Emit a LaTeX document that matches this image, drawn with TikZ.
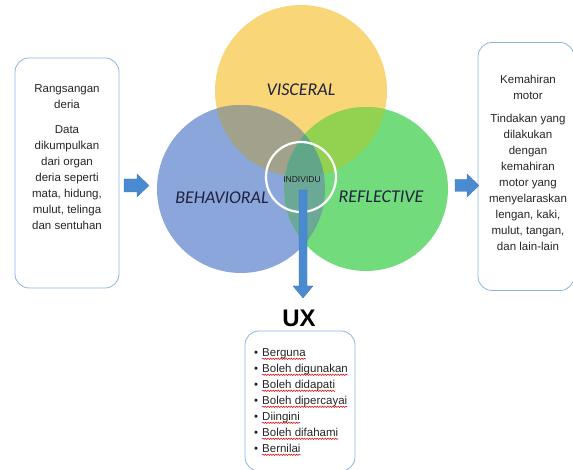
\documentclass[tikz,border=0pt]{standalone}
\usepackage{fontspec}
\setmainfont{Liberation Sans}
\newfontfamily\labfont{Carlito}
\usetikzlibrary{decorations.pathmorphing}
\definecolor{cy}{HTML}{F9D678}
\definecolor{cb}{HTML}{8AA6DA}
\definecolor{cg}{HTML}{72DC7C}
\definecolor{cyb}{HTML}{A2A28C}
\definecolor{cyg}{HTML}{92D250}
\definecolor{cbg}{HTML}{6BA896}
\definecolor{cybg}{HTML}{62A68A}
\definecolor{boxline}{HTML}{8EB4E3}
\definecolor{arrowblue}{HTML}{4A8AD0}
\definecolor{labcol}{HTML}{1F2340}
\tikzset{
  infobox/.style={draw=boxline, line width=0.8pt, rounded corners=14pt, fill=white},
  boxtext/.style={align=center, font=\fontsize{11.5}{16}\selectfont, text=black!85, inner sep=0pt},
  circlab/.style={font=\labfont\itshape\fontsize{18}{20}\selectfont, text=labcol, inner sep=0pt},
  blockarrow/.style={fill=arrowblue, draw=arrowblue!85!black, line width=0.3pt},
  uxitem/.style={anchor=base west, font=\fontsize{11.5}{14}\selectfont, inner sep=0pt, text=black!85},
  squiggle/.style={draw=red!85!black, line width=0.5pt, decorate, decoration={snake, amplitude=0.7pt, segment length=2.6pt}}
}
\begin{document}
\begin{tikzpicture}[x=1pt,y=-1pt]
\useasboundingbox (0,0) rectangle (573,470);
% circles
\coordinate (Y) at (301,91);
\coordinate (B) at (241,189);
\coordinate (G) at (366,189);
\def\ry{86}\def\rb{84}\def\rg{82}
\fill[cy] (Y) circle (\ry);
\fill[cb] (B) circle (\rb);
\fill[cg] (G) circle (\rg);
\begin{scope}
  \clip (Y) circle (\ry);
  \fill[cyb] (B) circle (\rb);
  \fill[cyg] (G) circle (\rg);
\end{scope}
\begin{scope}
  \clip (B) circle (\rb);
  \fill[cbg] (G) circle (\rg);
  \clip (G) circle (\rg);
  \fill[cybg] (Y) circle (\ry);
\end{scope}
% inner circle
\node[circle, draw=white, line width=2.2pt, minimum size=70pt, inner sep=0pt] (ind) at (301,177) {};
\node[font=\fontsize{8.5}{10}\selectfont, text=black!90, inner sep=0pt] (indt) at (302,180) {INDIVIDU};
% circle labels
\node[circlab] (vis) at (301,90) {VISCERAL};
\node[circlab] (beh) at (222,198) {BEHAVIORAL};
\node[circlab] (ref) at (381,197) {REFLECTIVE};
% left box
\node[infobox, minimum width=104pt, minimum height=230pt] (lbox) at (67,173) {};
\node[boxtext] (ltext) at (67,157) {Rangsangan\\deria\\[9pt]Data\\dikumpulkan\\dari organ\\deria seperti\\mata, hidung,\\mulut, telinga\\dan sentuhan};
% right box
\node[infobox, minimum width=96pt, minimum height=248pt] (rbox) at (526,166.5) {};
\node[boxtext] (rtext) at (528,163) {Kemahiran\\motor\\[7pt]Tindakan yang\\dilakukan\\dengan\\kemahiran\\motor yang\\menyelaraskan\\lengan, kaki,\\mulut, tangan,\\dan lain-lain};
% block arrows
\draw[blockarrow] (124,179) -- (137,179) -- (137,174) -- (149,185.5) -- (137,197) -- (137,192) -- (124,192) -- cycle;
\draw[blockarrow] (455,179.5) -- (467,179.5) -- (467,174) -- (479,185.5) -- (467,197) -- (467,191.5) -- (455,191.5) -- cycle;
\draw[blockarrow] (299,190) -- (307,190) -- (307,286) -- (313,286) -- (303,298) -- (293,286) -- (299,286) -- cycle;
% UX
\node[font=\bfseries\fontsize{24}{26}\selectfont, inner sep=0pt] (ux) at (299,318) {UX};
\node[infobox, minimum width=110pt, minimum height=140pt] (uxbox) at (300,401) {};
\foreach \t [count=\i] in {Berguna,Boleh digunakan,Boleh didapati,Boleh dipercayai,Diingini,Boleh difahami,Bernilai}{
  \node[uxitem] (b\i) at (254,340+16*\i) {\textbullet};
  \node[uxitem] (u\i) at (262,340+16*\i) {\t};
  \draw[squiggle] ([yshift=-2.8pt]u\i.base west) -- ([yshift=-2.8pt]u\i.base east);
}
\end{tikzpicture}
\end{document}
